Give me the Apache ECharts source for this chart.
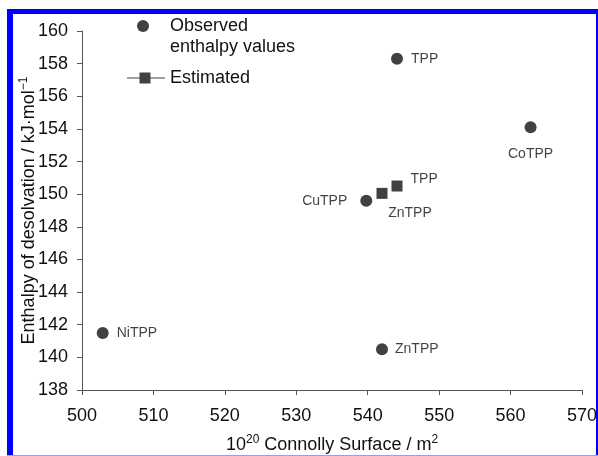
<!DOCTYPE html>
<html>
<head>
<meta charset="utf-8">
<script src="https://cdn.jsdelivr.net/npm/echarts@6/dist/echarts.min.js"></script>
<style>
html,body{margin:0;padding:0;background:#fff;}
#main{width:598px;height:456px;}
</style>
</head>
<body>
<div id="main"></div>
<script>
// ---- data ----
var obsNames = ['TPP', 'CoTPP', 'CuTPP', 'NiTPP', 'ZnTPP'];
var obsX = [544.1, 562.8, 539.8, 502.9, 542.0];
var obsY = [158.3, 154.1, 149.6, 141.5, 140.5];
var estNames = ['ZnTPP', 'TPP'];
var estX = [542.0, 544.1];
var estY = [150.05, 150.5];
var xTicks = [500, 510, 520, 530, 540, 550, 560, 570];
var yTicks = [138, 140, 142, 144, 146, 148, 150, 152, 154, 156, 158, 160];

// ---- label styles (by name) ----
var obsLabelStyle = {
  'TPP': {position: 'right', distance: 8},
  'CoTPP': {position: 'bottom', distance: 14},
  'CuTPP': {position: 'left', distance: 13},
  'NiTPP': {position: 'right', distance: 8},
  'ZnTPP': {position: 'right', distance: 7}
};
var estLabelStyle = {
  'ZnTPP': {position: 'bottom', distance: 7, offset: [28, 0]},
  'TPP': {position: 'right', distance: 8, offset: [0, -7]}
};

var FONT = '"Liberation Sans", Arial, sans-serif';
var TXT = '#111';

function build(xs, ys, names, styles) {
  return xs.map(function (x, i) {
    var s = styles[names[i]];
    return {
      value: [x, ys[i]],
      name: names[i],
      label: Object.assign({show: true, formatter: names[i]}, s)
    };
  });
}

var chart = echarts.init(document.getElementById('main'), null, {renderer: 'canvas'});
var lineSquare = 'path://M0,5 L12.5,5 L12.5,0 L23.5,0 L23.5,5 L38,5 L38,6 L23.5,6 L23.5,11 L12.5,11 L12.5,6 L0,6 Z';

chart.setOption({
  animation: false,
  backgroundColor: '#fff',
  textStyle: {fontFamily: FONT},
  grid: {left: 82, right: 16, top: 31, bottom: 66, containLabel: false, outerBoundsMode: 'none'},
  legend: [
    {
      data: [{name: 'Observed', icon: 'circle'}],
      left: 137, top: 17, itemWidth: 12, itemHeight: 12,
      selectedMode: false, padding: 0,
      textStyle: {fontSize: 18, color: TXT, fontFamily: FONT, padding: [0, 0, 0, 16]}
    },
    {
      data: [{name: 'Estimated', icon: lineSquare}],
      left: 127, top: 69, itemWidth: 38, itemHeight: 11,
      selectedMode: false, padding: 0,
      textStyle: {fontSize: 18, color: TXT, fontFamily: FONT}
    }
  ],
  graphic: [
    {type: 'rect', shape: {x: 7, y: 9, width: 591, height: 5}, style: {fill: '#0000ff'}, silent: true},
    {type: 'rect', shape: {x: 7, y: 9, width: 6, height: 447}, style: {fill: '#0000ff'}, silent: true},
    {type: 'rect', shape: {x: 596, y: 9, width: 2, height: 447}, style: {fill: '#0000ff'}, silent: true},
    {type: 'rect', shape: {x: 7, y: 455, width: 591, height: 1}, style: {fill: '#9999ff'}, silent: true},
    {type: 'text', left: 170, top: 38, style: {text: 'enthalpy values', fontSize: 18, fill: TXT, fontFamily: FONT}, silent: true}
  ],
  xAxis: {
    type: 'value', min: xTicks[0], max: xTicks[xTicks.length - 1], interval: 10,
    splitLine: {show: false},
    axisLine: {show: true, lineStyle: {color: '#555', width: 1}},
    axisTick: {show: true, length: 5, lineStyle: {color: '#555'}},
    axisLabel: {fontSize: 18, color: TXT, margin: 17, fontFamily: FONT},
    name: '10{sup|20} Connolly Surface / m{sup|2}',
    nameLocation: 'middle', nameGap: 44,
    nameTextStyle: {
      fontSize: 18, color: TXT, fontFamily: FONT, lineHeight: 22,
      rich: {sup: {fontSize: 12, verticalAlign: 'top', lineHeight: 22, color: TXT, fontFamily: FONT}}
    }
  },
  yAxis: {
    type: 'value', min: yTicks[0], max: yTicks[yTicks.length - 1], interval: 2,
    splitLine: {show: false},
    axisLine: {show: true, lineStyle: {color: '#555', width: 1}},
    axisTick: {show: true, length: 5, lineStyle: {color: '#555'}},
    axisLabel: {fontSize: 18, color: TXT, margin: 14, fontFamily: FONT},
    name: 'Enthalpy of desolvation / kJ·mol{sup|\u22121}',
    nameLocation: 'middle', nameGap: 42, nameMoveOverlap: false,
    nameTextStyle: {
      fontSize: 18, color: TXT, fontFamily: FONT, lineHeight: 22,
      rich: {sup: {fontSize: 12, verticalAlign: 'top', lineHeight: 22, color: TXT, fontFamily: FONT}}
    }
  },
  series: [
    {
      name: 'Observed', type: 'scatter', symbol: 'circle', symbolSize: 12,
      itemStyle: {color: '#111'},
      label: {fontSize: 14, color: TXT, fontFamily: FONT},
      data: build(obsX, obsY, obsNames, obsLabelStyle)
    },
    {
      name: 'Estimated', type: 'scatter', symbol: 'rect', symbolSize: 11,
      itemStyle: {color: '#111'},
      label: {fontSize: 14, color: TXT, fontFamily: FONT},
      data: build(estX, estY, estNames, estLabelStyle)
    }
  ]
});
</script>
</body>
</html>
